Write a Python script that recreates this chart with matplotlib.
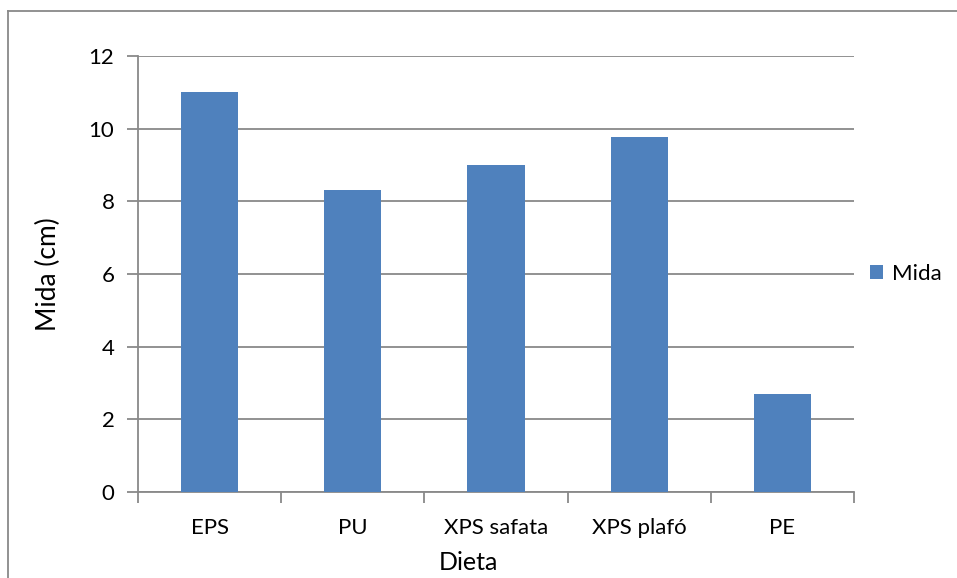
import matplotlib.pyplot as plt
from matplotlib.lines import Line2D

plt.rcParams['font.family'] = ['Lato', 'DejaVu Sans']

categories = ['EPS', 'PU', 'XPS safata', 'XPS plafó', 'PE']
mida = [11.02, 8.3, 9.0, 9.78, 2.7]
yticks = [0, 2, 4, 6, 8, 10, 12]

grey = '#898989'
blue = '#4F81BD'

fig = plt.figure(figsize=(9.57, 5.78), dpi=100)
ax = fig.add_axes([138 / 957, 86 / 578, 716 / 957, 436 / 578])

x = range(len(categories))
ax.bar(x, mida, width=0.4, color=blue, label='Mida', zorder=3)

ax.set_xlim(-0.5, len(categories) - 0.5)
ax.set_ylim(0, 12)
ax.set_yticks(yticks)
ax.yaxis.grid(True, color=grey, linewidth=1.3, zorder=0)

# major ticks at category boundaries, labels on minor ticks
ax.set_xticks([i - 0.5 for i in range(len(categories) + 1)])
ax.set_xticklabels([])
ax.set_xticks(list(x), minor=True)
ax.set_xticklabels(categories, minor=True)
ax.tick_params(axis='x', which='major', direction='out', length=8, width=1.3, color=grey)
ax.tick_params(axis='x', which='minor', length=0, pad=19, labelsize=16)
ax.tick_params(axis='y', direction='out', length=8, width=1.3, color=grey, pad=9, labelsize=16)

for side in ['top', 'right']:
    ax.spines[side].set_visible(False)
for side in ['left', 'bottom']:
    ax.spines[side].set_color(grey)
    ax.spines[side].set_linewidth(1.3)

ax.set_ylabel('Mida (cm)', fontsize=19, labelpad=20)
ax.set_xlabel('Dieta', fontsize=18)
ax.xaxis.set_label_coords(0.461, -0.135)

ax.legend(loc='center left', bbox_to_anchor=(1.0, 0.5), frameon=False,
          fontsize=16, handlelength=0.6, handleheight=0.6, handletextpad=0.4,
          borderaxespad=0.3)

# outer chart border
fig.add_artist(Line2D([8 / 957, 1.0], [1 - 10.5 / 578] * 2, color=grey, lw=1.3, transform=fig.transFigure))
fig.add_artist(Line2D([8 / 957] * 2, [0.0, 1 - 10.5 / 578], color=grey, lw=1.3, transform=fig.transFigure))

fig.savefig('out.png', dpi=100)
